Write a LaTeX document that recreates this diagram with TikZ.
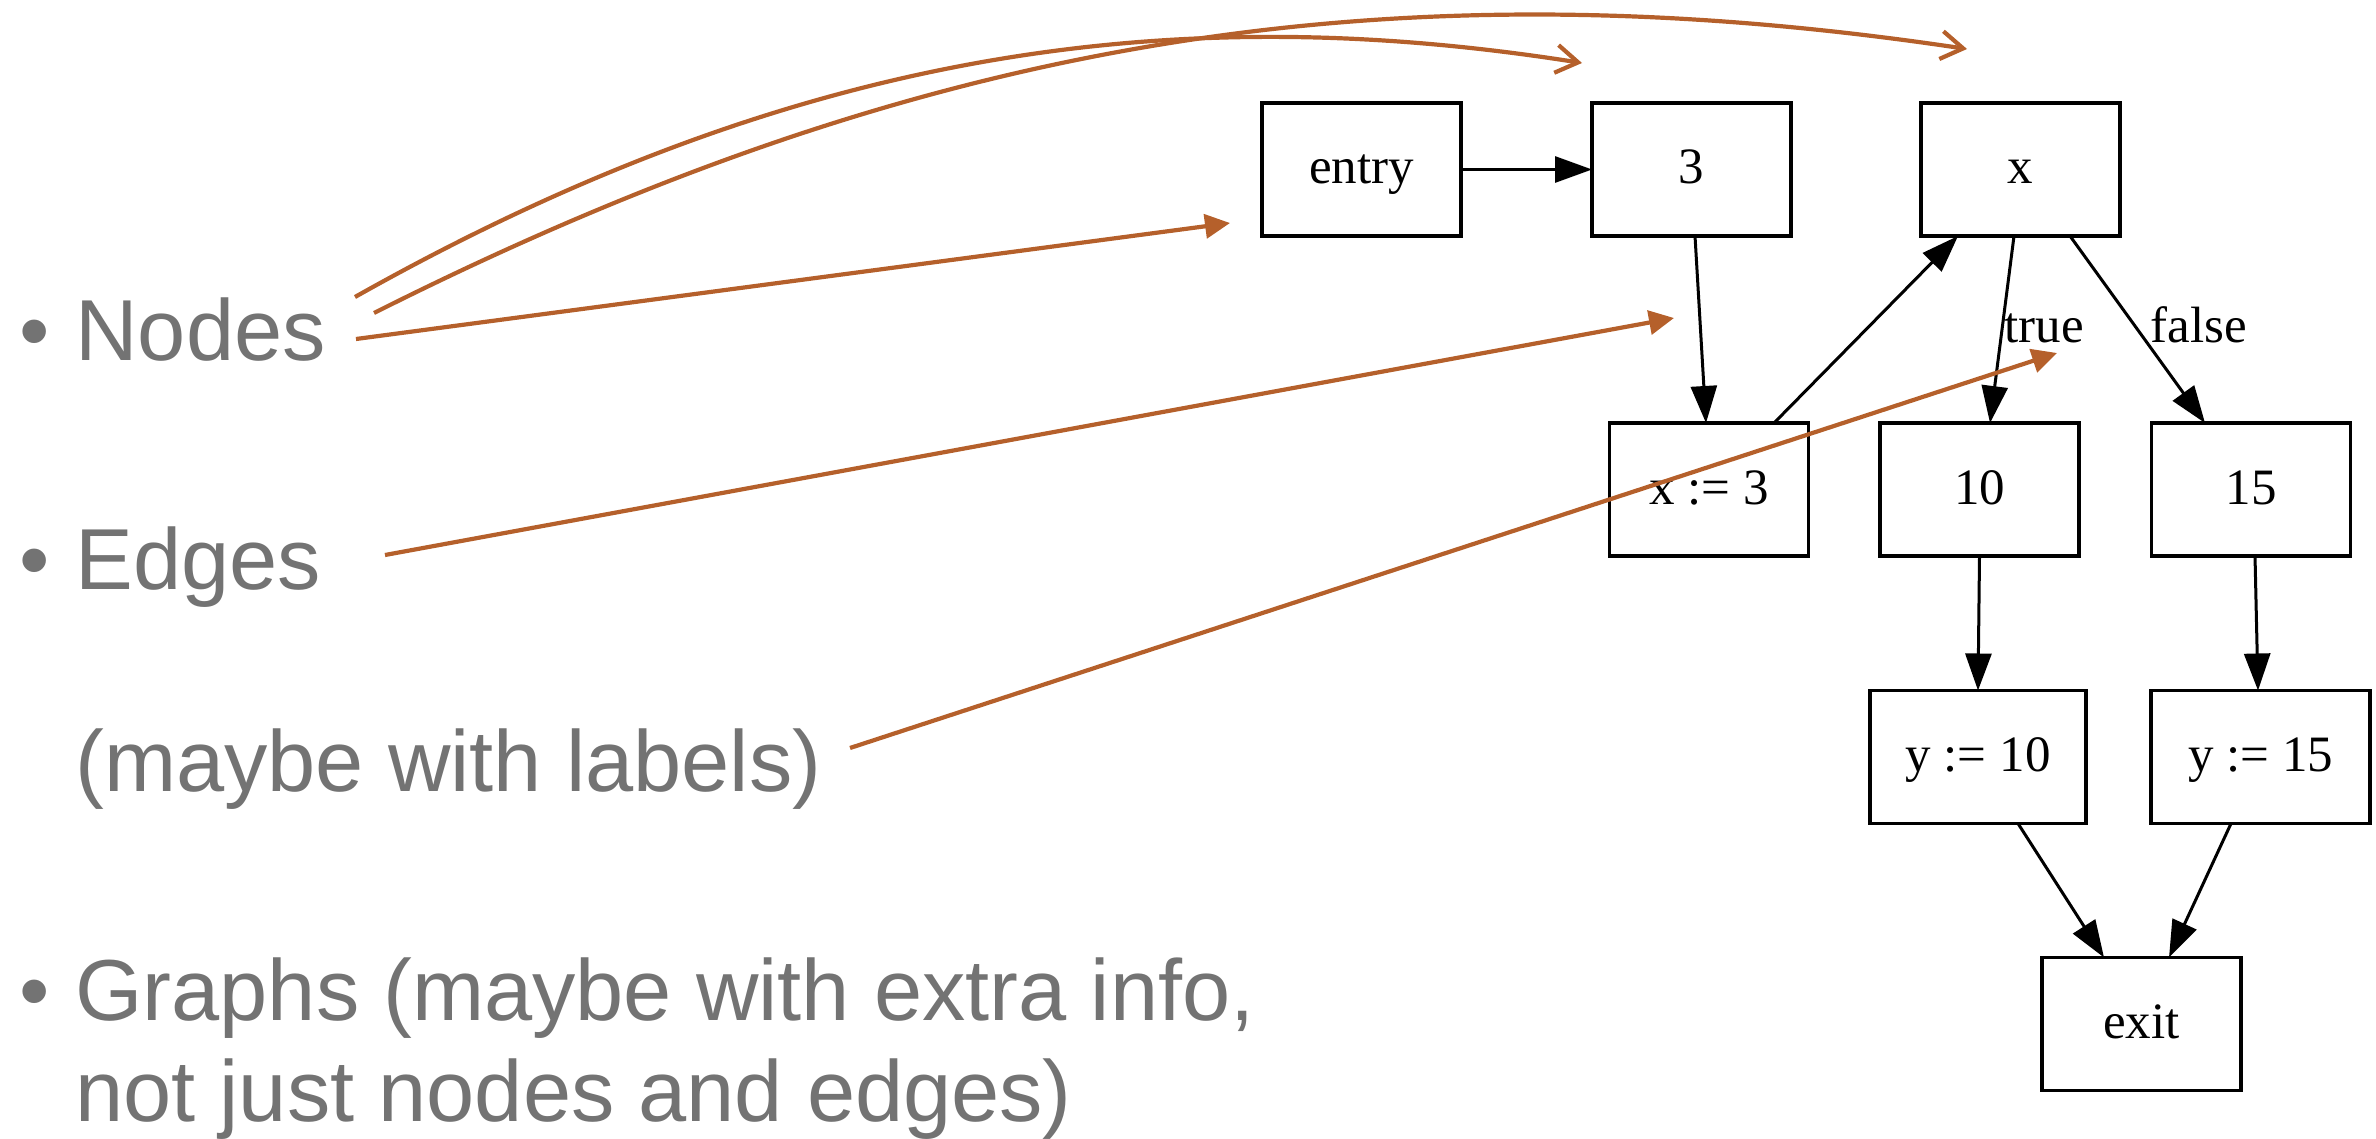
\documentclass[tikz,border=0pt]{standalone}
\usepackage{fontspec}
\setmainfont{Liberation Serif}
\newfontfamily\slidefont{Liberation Sans}
\usetikzlibrary{arrows.meta}
\definecolor{callout}{HTML}{B5602B}
\definecolor{slidegray}{HTML}{737373}
\begin{document}
\begin{tikzpicture}[x=0.5pt,y=-0.5pt,
  block/.style={draw=black, line width=1.8pt, rectangle, minimum width=99.5pt,
    minimum height=66.5pt, inner sep=0pt, outer sep=0pt,
    font=\fontsize{25.5}{30}\selectfont, text height=18pt, text depth=3.5pt},
  flow/.style={line width=1.5pt, -{Triangle[length=18.5pt,width=13pt]}},
  edgelabel/.style={font=\fontsize{25.5}{30}\selectfont, inner sep=0pt, anchor=base west},
  bullettext/.style={font=\slidefont\fontsize{43.3}{52}\selectfont, text=slidegray,
    inner sep=0pt, anchor=base west},
  bulletmark/.style={font=\slidefont\fontsize{43.3}{52}\selectfont, text=slidegray,
    inner sep=0pt, anchor=base},
  pointer/.style={draw=callout, line width=2.1pt, -{Triangle[length=12.5pt,width=12pt]}},
  curvedpointer/.style={draw=callout, line width=2.1pt, -{Straight Barb[length=11pt,width=14pt]}},
]
\useasboundingbox (0,0) rectangle (2376,1139);

% bullet list
\node[bulletmark] (b1) at (35,360) {•};
\node[bullettext] (nodes) at (75,360) {Nodes};
\node[bulletmark] (b2) at (35,589) {•};
\node[bullettext] (edges) at (75,589) {Edges};
\node[bullettext] (labels) at (75,791) {(maybe with labels)};
\node[bulletmark] (b3) at (35,1020) {•};
\node[bullettext] (graphs) at (75,1020) {Graphs (maybe with extra info,};
\node[bullettext] (graphs2) at (75,1121) {not just nodes and edges)};

% control-flow graph
\node[block] (entry) at (1361.5,169.5) {entry};
\node[block] (three) at (1691.5,169.5) {3};
\node[block] (cond) at (2020.5,169.5) {x};
\node[block] (assignx) at (1709,489.5) {x := 3};
\node[block] (ten) at (1979.5,489.5) {10};
\node[block] (fifteen) at (2251,489.5) {15};
\node[block, minimum width=108pt] (yten) at (1978,757) {y := 10};
\node[block, minimum width=109.5pt] (yfifteen) at (2260.5,757) {y := 15};
\node[block] (exit) at (2141.5,1024) {exit};

\draw[flow] (entry.east) -- (three.west);
\draw[flow] ([shift={(3.5,0)}]three.south) -- ([shift={(-3,0)}]assignx.north);
\draw[flow] ([shift={(65,0)}]assignx.north) -- ([shift={(-62.5,0)}]cond.south);
\draw[flow] ([shift={(-6.5,0)}]cond.south) -- ([shift={(10.5,0)}]ten.north);
\draw[flow] ([shift={(49.5,0)}]cond.south) -- ([shift={(-46,0)}]fifteen.north);
\draw[flow] (ten.south) -- (yten.north);
\draw[flow] ([shift={(4,0)}]fifteen.south) -- ([shift={(-2.5,0)}]yfifteen.north);
\draw[flow] ([shift={(40,0)}]yten.south) -- ([shift={(-37.5,0)}]exit.north);
\draw[flow] ([shift={(-29.5,0)}]yfifteen.south) -- ([shift={(27.5,0)}]exit.north);

\node[edgelabel] (lbltrue) at (2004,342) {true};
\node[edgelabel] (lblfalse) at (2150,342) {false};

% call-out arrows
\coordinate (pA0) at (355,297);
\coordinate (pA1) at (1582,63);
\draw[curvedpointer] (pA0) .. controls (808,41.7) and (1187,0.6) .. (pA1);
\coordinate (pB0) at (374,313);
\coordinate (pB1) at (1967,49);
\draw[curvedpointer] (pB0) .. controls (910,43.6) and (1374,-39.8) .. (pB1);
\coordinate (pC0) at (356,339);
\coordinate (pC1) at (1230,223);
\draw[pointer] (pC0) -- (pC1);
\coordinate (pD0) at (385,555);
\coordinate (pD1) at (1674,318);
\draw[pointer] (pD0) -- (pD1);
\coordinate (pE0) at (850,748);
\coordinate (pE1) at (2057,353);
\draw[pointer] (pE0) -- (pE1);
\end{tikzpicture}
\end{document}
